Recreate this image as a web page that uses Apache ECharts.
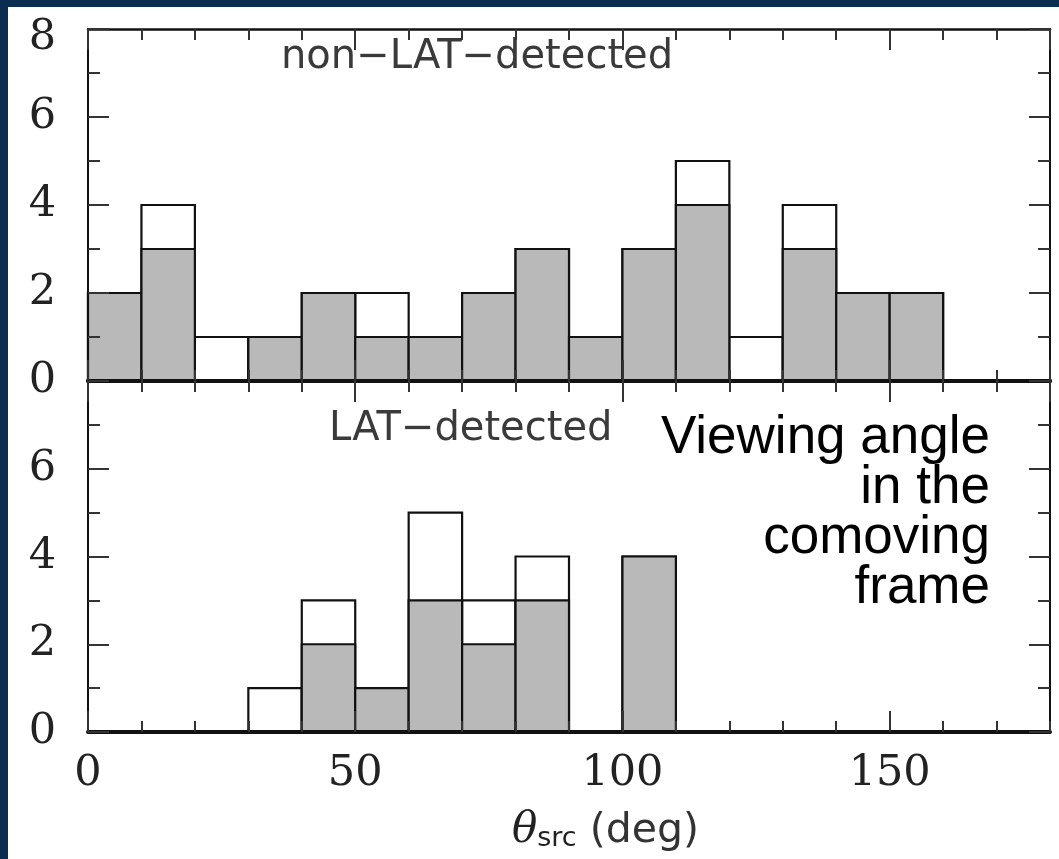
<!DOCTYPE html>
<html><head><meta charset="utf-8">
<script src="https://cdn.jsdelivr.net/npm/echarts@6/dist/echarts.min.js"></script>
<style>
html,body{margin:0;padding:0;background:#ffffff;overflow:hidden;}
#bl{position:absolute;left:0;top:0;width:8px;height:100%;background:#0b2e50;}
#bt{position:absolute;left:0;top:0;width:100%;height:7px;background:#0b2e50;}
#c{position:absolute;left:0;top:0;width:1059px;height:859px;}
</style>
</head><body><div id="bl"></div><div id="bt"></div><div id="c"></div>
<script>
// ---- data ----
const binStarts = [0,10,20,30,40,50,60,70,80,90,100,110,120,130,140,150,160,170];
const binWidth = 10;
const nonLatAll = [2,4,1,1,2,2,1,2,3,1,3,5,1,4,2,2,0,0];
const nonLatSub = [2,3,0,1,2,1,1,2,3,1,3,4,0,3,2,2,0,0];
const latAll    = [0,0,0,1,3,1,5,3,4,0,4,0,0,0,0,0,0,0];
const latSub    = [0,0,0,0,2,1,3,2,3,0,4,0,0,0,0,0,0,0];
const xTickLabels = [0,50,100,150];
const yTickLabels = [0,2,4,6,8];
const panelNames = ['non\u2212LAT\u2212detected','LAT\u2212detected'];
const xTitle = ['\u03b8','src',' (deg)'];
const noteLines = ['Viewing angle','in the','comoving','frame'];

// ---- style ----
const ink = '#111111';
const grayFill = '#b9b9b9';
const chart = echarts.init(document.getElementById('c'));

const labelFont = {color:'#222', fontFamily:'DejaVu Serif', fontSize:43};

function xAx(grid, pos, interval, tickLen, showLine, lineW, labels) {
  return {
    type:'value', gridIndex:grid, position:pos, min:0, max:180, interval:interval, z:5,
    axisLine:{show:showLine, onZero:false, lineStyle:{color:ink, width:lineW}},
    axisTick:{show:true, inside:true, length:tickLen, lineStyle:{color:'#333', width:2}},
    axisLabel:Object.assign({show:labels, showMaxLabel:false, margin:20,
      formatter:function(v){ return xTickLabels.indexOf(v) >= 0 ? String(v) : ''; }}, labelFont),
    splitLine:{show:false}
  };
}
function yAx(grid, pos, labels, hideMax) {
  return {
    type:'value', gridIndex:grid, position:pos, min:0, max:8, interval:2, z:5,
    axisLine:{show:true, onZero:false, lineStyle:{color:ink, width:2}},
    axisTick:{show:true, inside:true, length:21, lineStyle:{color:'#333', width:2}},
    minorTick:{show:true, splitNumber:2, length:12, lineStyle:{color:'#333', width:2}},
    axisLabel:Object.assign({show:labels, showMaxLabel:!hideMax, margin:32,
      formatter:function(v){
        if (yTickLabels.indexOf(v) < 0) return '';
        return v === 8 ? '{top|' + v + '}' : String(v);
      },
      rich:{top:{fontFamily:'DejaVu Serif', fontSize:43, color:'#222', padding:[18,0,0,0]}}
    }, labelFont),
    splitLine:{show:false}
  };
}
function hist(counts, xIdx, yIdx, fill, z) {
  return {
    type:'custom', xAxisIndex:xIdx, yAxisIndex:yIdx, z:z, clip:false, silent:true,
    data: binStarts.map(function(s,i){ return [s, counts[i]]; }),
    encode:{x:0, y:1},
    renderItem:function(params, api){
      const s = api.value(0), c = api.value(1);
      if (!c) return null;
      const p0 = api.coord([s, 0]);
      const p1 = api.coord([s + binWidth, c]);
      return {type:'rect',
        shape:{x:p0[0], y:p1[1], width:p1[0]-p0[0], height:p0[1]-p1[1]},
        style:{fill:fill, stroke:ink, lineWidth:2.2}};
    }
  };
}

const option = {
  backgroundColor:'transparent',
  animation:false,
  grid:[
    {left:88, top:29, width:962, height:352},
    {left:88, top:381, width:962, height:351}
  ],
  xAxis:[
    xAx(0,'bottom',50,21,true,4,false),
    xAx(0,'bottom',10,11,false,4,false),
    xAx(0,'top',50,21,true,2.5,false),
    xAx(0,'top',10,11,false,2.5,false),
    xAx(1,'bottom',50,21,true,4,true),
    xAx(1,'bottom',10,11,false,4,false),
    xAx(1,'top',50,21,true,4,false),
    xAx(1,'top',10,11,false,4,false)
  ],
  yAxis:[
    yAx(0,'left',true,false),
    yAx(0,'right',false,false),
    yAx(1,'left',true,true),
    yAx(1,'right',false,true)
  ],
  graphic:[
    {type:'text', z:10, x:281, y:38, style:{text:panelNames[0], fill:'#3a3a3a',
      font:'40px "DejaVu Sans"'}},
    {type:'text', z:10, x:329, y:410, style:{text:panelNames[1], fill:'#3a3a3a',
      font:'40px "DejaVu Sans"'}},
    {type:'text', z:10, x:990, y:413, style:{text:noteLines.join('\n'), fill:'#000',
      font:'53px "Liberation Sans"', align:'right', verticalAlign:'top', lineHeight:50}},
    {type:'text', z:10, x:512, y:806, style:{
      text:'{t|'+xTitle[0]+'}{s|'+xTitle[1]+'}{d|'+xTitle[2]+'}',
      rich:{
        t:{fontFamily:'DejaVu Serif', fontStyle:'italic', fontSize:42, fill:'#222', verticalAlign:'bottom', lineHeight:46},
        s:{fontFamily:'DejaVu Sans', fontSize:27, fill:'#222', verticalAlign:'bottom', lineHeight:30},
        d:{fontFamily:'DejaVu Sans', fontSize:41, fill:'#333', verticalAlign:'bottom', lineHeight:46}
      }}}
  ],
  series:[
    hist(nonLatAll,0,0,'#ffffff',2),
    hist(nonLatSub,0,0,grayFill,3),
    hist(latAll,4,2,'#ffffff',2),
    hist(latSub,4,2,grayFill,3)
  ]
};
chart.setOption(option);
</script></body></html>
